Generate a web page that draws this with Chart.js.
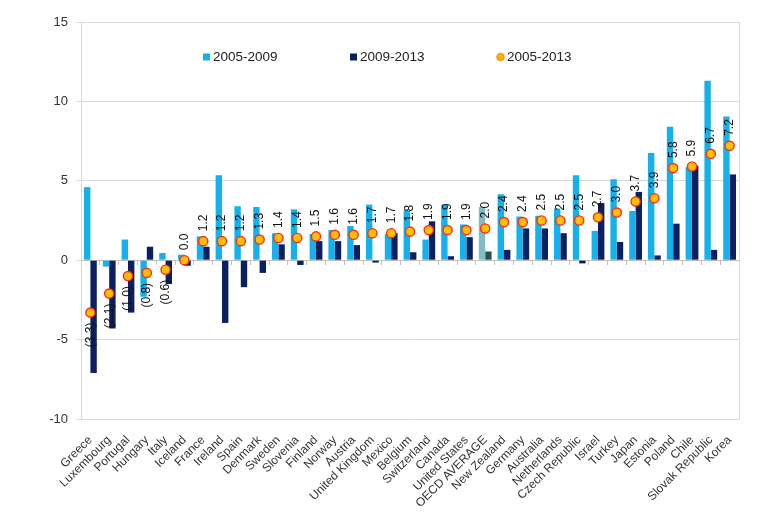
<!DOCTYPE html>
<html lang="en">
<head>
    <meta charset="UTF-8">
    <title>Growth 2005-2013</title>
    <script src="https://cdn.jsdelivr.net/npm/chart.js"></script>
    <style>
        body { margin: 0; background: #fff; }
        .chart-container { position: relative; width: 780px; height: 529px; }
    </style>
</head>
<body>
<div class="chart-container">
    <canvas id="growthChart"></canvas>
</div>
<script>
    const countries = ['Greece', 'Luxembourg', 'Portugal', 'Hungary', 'Italy', 'Iceland', 'France', 'Ireland',
        'Spain', 'Denmark', 'Sweden', 'Slovenia', 'Finland', 'Norway', 'Austria', 'United Kingdom', 'Mexico',
        'Belgium', 'Switzerland', 'Canada', 'United States', 'OECD AVERAGE', 'New Zealand', 'Germany',
        'Australia', 'Netherlands', 'Czech Republic', 'Israel', 'Turkey', 'Japan', 'Estonia', 'Poland',
        'Chile', 'Slovak Republic', 'Korea'];

    const growth0509 = [4.6, -0.4, 1.3, -2.3, 0.45, 0.35, 1.5, 5.35, 3.4, 3.35, 1.7, 3.2, 1.65, 1.9, 2.15, 3.5,
        1.65, 3.15, 1.3, 3.5, 2.25, 3.35, 4.15, 2.75, 2.8, 3.25, 5.35, 1.85, 5.1, 3.1, 6.75, 8.4, 5.85, 11.3, 9.05];

    const growth0913 = [-7.1, -4.3, -3.3, 0.85, -1.5, -0.35, 0.85, -3.95, -1.7, -0.8, 1.0, -0.3, 1.2, 1.2, 0.95,
        -0.15, 1.7, 0.5, 2.45, 0.25, 1.45, 0.55, 0.65, 2.0, 2.0, 1.7, -0.2, 3.6, 1.15, 4.3, 0.3, 2.3, 5.95, 0.65, 5.4];

    const growth0513 = [-3.3, -2.1, -1.0, -0.8, -0.6, 0.0, 1.2, 1.2, 1.2, 1.3, 1.4, 1.4, 1.5, 1.6, 1.6, 1.7, 1.7,
        1.8, 1.9, 1.9, 1.9, 2.0, 2.4, 2.4, 2.5, 2.5, 2.5, 2.7, 3.0, 3.7, 3.9, 5.8, 5.9, 6.7, 7.2];

    const seriesNames = ['2005-2009', '2009-2013', '2005-2013'];

    const yMin = -10, yMax = 15, yStep = 5;

    const FONT = '"Liberation Sans", Arial, sans-serif';
    const lightBlue = '#14b1ea', navy = '#0a2060';
    const oecdLight = '#7fbcc4', oecdDark = '#27504f';

    const lightColors = countries.map(c => c === 'OECD AVERAGE' ? oecdLight : lightBlue);
    const darkColors = countries.map(c => c === 'OECD AVERAGE' ? oecdDark : navy);

    // value labels written vertically above (or below) each dot
    const dotLabels = {
        id: 'dotLabels',
        afterDatasetsDraw(chart) {
            const ctx = chart.ctx;
            const meta = chart.getDatasetMeta(2);
            ctx.save();
            ctx.font = '12px ' + FONT;
            ctx.fillStyle = '#111';
            ctx.textBaseline = 'middle';
            meta.data.forEach((pt, i) => {
                const v = growth0513[i];
                const txt = v < 0 ? '(' + Math.abs(v).toFixed(1) + ')' : v.toFixed(1);
                ctx.save();
                if (v < 0) {
                    ctx.translate(pt.x, pt.y + 10);
                    ctx.rotate(-Math.PI / 2);
                    ctx.textAlign = 'right';
                } else {
                    ctx.translate(pt.x, pt.y - 10);
                    ctx.rotate(-Math.PI / 2);
                    ctx.textAlign = 'left';
                }
                ctx.fillText(txt, 0, 0);
                ctx.restore();
            });
            ctx.restore();
        }
    };

    // legend sits inside the plot area near the top
    const innerLegend = {
        id: 'innerLegend',
        afterDraw(chart) {
            const ctx = chart.ctx;
            const area = chart.chartArea;
            const offsets = [122, 269, 416];
            const y = area.top + 35;
            ctx.save();
            ctx.font = '13.5px ' + FONT;
            ctx.textBaseline = 'middle';
            chart.data.datasets.forEach((ds, i) => {
                const x = area.left + offsets[i];
                if (i < 2) {
                    ctx.fillStyle = i === 0 ? lightBlue : navy;
                    ctx.fillRect(x, y - 3.5, 7, 7);
                } else {
                    ctx.beginPath();
                    ctx.arc(x + 3.5, y, 3.8, 0, Math.PI * 2);
                    ctx.fillStyle = '#ffb000';
                    ctx.fill();
                    ctx.strokeStyle = '#f08000';
                    ctx.lineWidth = 0.8;
                    ctx.stroke();
                }
                ctx.fillStyle = '#222';
                ctx.fillText(ds.label, x + 10, y + 0.5);
            });
            ctx.restore();
        }
    };

    const ctx = document.getElementById('growthChart').getContext('2d');
    new Chart(ctx, {
        data: {
            labels: countries,
            datasets: [
                {
                    type: 'bar',
                    label: seriesNames[0],
                    data: growth0509,
                    backgroundColor: lightColors,
                    categoryPercentage: 0.68,
                    barPercentage: 1.0,
                    order: 2
                },
                {
                    type: 'bar',
                    label: seriesNames[1],
                    data: growth0913,
                    backgroundColor: darkColors,
                    categoryPercentage: 0.68,
                    barPercentage: 1.0,
                    order: 2
                },
                {
                    type: 'line',
                    label: seriesNames[2],
                    data: growth0513,
                    showLine: false,
                    pointRadius: 4.6,
                    pointBackgroundColor: '#ffbf00',
                    pointBorderColor: '#ff2a1a',
                    pointBorderWidth: 1.4,
                    order: 0
                }
            ]
        },
        options: {
            responsive: true,
            maintainAspectRatio: false,
            animation: false,
            layout: { padding: { left: 36, right: 41, top: 22, bottom: 0 } },
            plugins: {
                legend: { display: false },
                tooltip: { enabled: false }
            },
            scales: {
                x: {
                    type: 'category',
                    offset: true,
                    grid: { display: false },
                    border: { display: false },
                    ticks: {
                        autoSkip: false,
                        minRotation: 45,
                        maxRotation: 45,
                        padding: 6,
                        color: '#333',
                        font: { family: FONT, size: 12 }
                    },
                    afterFit: s => { s.height = 110; }
                },
                xZero: {
                    type: 'category',
                    axis: 'x',
                    position: { y: 0 },
                    offset: true,
                    grid: {
                        offset: true,
                        drawOnChartArea: false,
                        drawTicks: true,
                        tickLength: 4,
                        color: '#bfbfbf'
                    },
                    border: { display: true, color: '#bfbfbf' },
                    ticks: { display: false }
                },
                y: {
                    min: yMin,
                    max: yMax,
                    ticks: {
                        stepSize: yStep,
                        padding: 8,
                        color: '#333',
                        font: { family: FONT, size: 13 }
                    },
                    grid: { color: '#d9d9d9', tickLength: 5 },
                    border: { color: '#d9d9d9' },
                    afterFit: s => { s.width = 45; }
                },
                yFrame: {
                    position: 'right',
                    grid: { drawOnChartArea: false, drawTicks: false },
                    ticks: { display: false },
                    border: { color: '#d9d9d9' }
                }
            }
        },
        plugins: [dotLabels, innerLegend]
    });
</script>
</body>
</html>
